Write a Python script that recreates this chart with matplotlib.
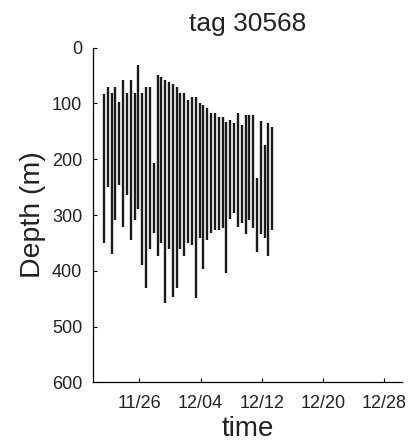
import numpy as np
import pandas as pd
import matplotlib
matplotlib.use("Agg")
import matplotlib.pyplot as plt
import matplotlib.dates as mdates

plt.rcParams["font.family"] = ["Liberation Sans", "DejaVu Sans"]

# one depth range per 12 h record, starting 11/21 09:00
start_time = "2004-11-21 09:00"
n_records = 45
times = pd.date_range(start_time, periods=n_records, freq="12h")

depth_min = [84, 71, 81, 71, 97, 58, 81, 58, 81, 31,
             81, 71, 71, 207, 49, 53, 58, 62, 66, 71,
             81, 81, 94, 88, 88, 100, 103, 108, 117, 117,
             124, 124, 133, 130, 136, 117, 139, 121, 120, 120,
             234, 131, 175, 136, 142]
depth_max = [351, 249, 370, 309, 246, 322, 265, 345, 309, 289,
             390, 431, 361, 333, 373, 351, 458, 361, 446, 431,
             361, 373, 351, 354, 449, 342, 397, 345, 333, 327,
             327, 324, 403, 308, 297, 321, 315, 334, 309, 324,
             367, 334, 342, 373, 327]

tick_dates = ["2004-11-26", "2004-12-04", "2004-12-12", "2004-12-20", "2004-12-28"]
y_ticks = [0, 100, 200, 300, 400, 500, 600]


def main():
    fig = plt.figure(figsize=(4.10, 4.47), dpi=100)
    ax = fig.add_axes([0.228, 0.1443, 0.753, 0.7494])

    ax.vlines(times, depth_min, depth_max, colors="#1a1a1a", linewidth=1.7)

    ax.set_xlim(pd.Timestamp("2004-11-20 00:00"), pd.Timestamp("2004-12-30 08:40"))
    ax.set_ylim(600, 0)
    ax.set_yticks(y_ticks)
    ax.set_xticks(pd.to_datetime(tick_dates))
    ax.xaxis.set_major_formatter(mdates.DateFormatter("%m/%d"))

    for side in ["top", "right"]:
        ax.spines[side].set_visible(False)
    for side in ["left", "bottom"]:
        ax.spines[side].set_linewidth(0.9)

    ax.tick_params(axis="both", direction="in", length=3, width=0.8,
                   labelsize=13, labelcolor="#222222")
    ax.tick_params(axis="x", pad=9)
    ax.tick_params(axis="y", pad=8)

    ax.set_title("tag 30568", fontsize=19, pad=12, color="#222222")
    ax.set_ylabel("Depth (m)", fontsize=20.5, labelpad=4, color="#222222")
    ax.set_xlabel("time", fontsize=20, labelpad=3, color="#222222")

    fig.savefig("out.png", dpi=100)
    plt.close(fig)


if __name__ == "__main__":
    main()
